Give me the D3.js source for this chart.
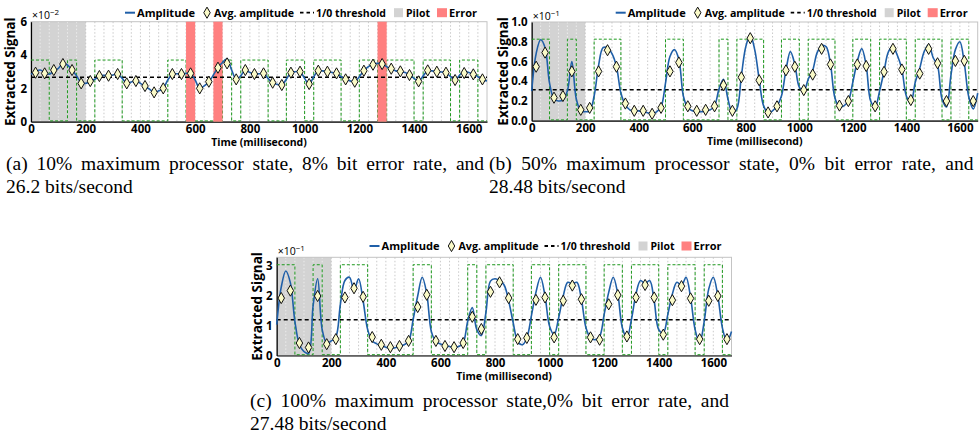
<!DOCTYPE html>
<html><head><meta charset="utf-8">
<script src="https://cdn.jsdelivr.net/npm/d3@7"></script>
<style>body{margin:0;background:#fff}svg{display:block}</style>
</head><body>
<svg id="chart" width="979" height="448"></svg>
<script>
// ---------------- data ----------------
const slotMs = 1000 / 30;          // one bit slot
const slotCount = 50;
const pilotMs = 200;
const bits = [1,1,0,0,1,0,0,1,1,1, 0,0,0,0,0,1,1,0,0,0, 0,1,0,1,1,1,0,0,1,1,
              0,1,1,1,0,0,1,1,0,1, 1,1,0,1,1,1,0,1,1,0];
const xTicks = [0,200,400,600,800,1000,1200,1400,1600];

// (a) 10% processor state  (x10^-2)
const ampA = [2.85,3.0,3.1,2.95,2.85,3.05,3.2,3.5,3.4,3.1,
  2.75,2.35,2.3,2.4,2.55,2.72,2.78,2.76,2.8,2.85,
  2.6,2.3,2.38,2.45,2.3,2.12,1.95,1.78,1.85,2.0,
  2.5,2.85,2.88,2.86,2.9,2.9,2.5,2.0,2.15,2.4,
  2.8,3.25,3.55,3.78,3.1,2.55,2.75,3.1,2.95,2.86,
  2.88,2.9,2.6,2.32,2.25,2.2,2.55,2.94,3.0,3.0,
  2.6,2.25,2.7,3.06,3.05,3.0,2.95,2.9,2.7,2.54,
  2.45,2.4,2.7,3.06,3.3,3.44,3.5,3.48,3.3,3.16,
  3.05,3.0,2.95,2.82,2.6,2.42,2.75,3.06,3.05,3.0,
  2.98,2.94,2.7,2.5,2.8,3.04,2.95,2.86,2.7,2.52,2.45];
const avgA = [2.94,2.9,3.1,3.46,3.1,2.3,2.44,2.74,2.76,2.86,
  2.3,2.44,2.14,1.76,2.0,2.86,2.86,2.9,2.0,2.4,
  3.24,3.5,2.54,3.1,2.86,2.9,2.34,2.2,2.94,3.0,
  2.26,3.06,3.0,2.9,2.54,2.4,3.06,3.42,3.46,3.18,
  3.02,2.8,2.42,3.08,3.0,2.94,2.5,2.92,2.84,2.54];
const errA = [17,20,38];
const thrA = 2.67, highA = 3.7, yMaxA = 6, yTicksA = [0,2,4,6];

// (b) 50% processor state  (x10^-1)
const ampB = [0.30,0.68,0.82,0.74,0.38,0.22,0.20,0.21,0.30,0.60,
  0.22,0.10,0.09,0.10,0.25,0.56,0.74,0.74,0.68,0.55,
  0.28,0.16,0.11,0.10,0.10,0.09,0.08,0.07,0.09,0.14,
  0.38,0.65,0.72,0.62,0.25,0.13,0.10,0.09,0.09,0.10,
  0.11,0.15,0.32,0.42,0.22,0.08,0.12,0.45,0.75,0.87,
  0.72,0.42,0.15,0.08,0.10,0.15,0.25,0.51,0.70,0.57,
  0.34,0.30,0.42,0.51,0.69,0.76,0.75,0.57,0.23,0.14,
  0.15,0.20,0.39,0.60,0.73,0.56,0.20,0.14,0.30,0.50,
  0.70,0.75,0.66,0.52,0.25,0.18,0.39,0.53,0.70,0.77,
  0.64,0.56,0.22,0.14,0.46,0.72,0.80,0.58,0.24,0.12,0.28];
const avgB = [0.547,0.69,0.233,0.25,0.50,0.11,0.13,0.50,0.714,0.547,
  0.174,0.10,0.10,0.07,0.13,0.50,0.59,0.146,0.10,0.11,
  0.146,0.36,0.10,0.44,0.836,0.41,0.084,0.146,0.51,0.547,
  0.31,0.467,0.728,0.57,0.153,0.199,0.57,0.554,0.146,0.495,
  0.728,0.519,0.209,0.477,0.728,0.582,0.199,0.606,0.606,0.199];
const errB = [];
const thrB = 0.314, highB = 0.826, yMaxB = 1.0, yTicksB = [0,0.2,0.4,0.6,0.8,1.0];

// (c) 100% processor state  (x10^-1)
const ampC = [1.04,2.3,2.84,2.45,1.15,0.36,0.13,0.07,1.67,2.58,
  0.87,0.42,0.49,0.62,1.72,2.52,2.63,2.18,2.58,1.84,
  0.87,0.49,0.39,0.32,0.28,0.24,0.26,0.30,0.36,0.47,
  1.21,2.0,2.63,2.07,0.81,0.47,0.39,0.34,0.30,0.26,
  0.30,0.42,1.15,1.61,0.87,0.67,1.44,2.50,2.58,2.52,
  2.37,1.84,1.10,0.47,0.36,0.59,1.33,2.12,2.63,2.0,
  0.98,0.70,1.27,2.0,2.46,2.41,2.46,1.89,0.93,0.59,
  0.53,0.64,1.38,2.12,2.63,2.07,0.93,0.59,1.21,2.07,
  2.52,2.41,2.52,1.84,0.87,0.76,1.38,2.07,2.46,2.35,
  2.63,1.95,0.87,0.42,1.15,2.24,2.63,2.0,0.93,0.47,0.81];
const avgC = [1.93,2.18,0.42,0.27,2.0,0.38,0.55,1.95,2.26,1.97,
  0.62,0.36,0.28,0.32,0.49,1.63,2.04,0.49,0.32,0.28,
  0.42,1.30,0.89,2.14,2.46,1.93,0.55,0.59,1.87,1.95,
  0.61,1.84,2.35,1.89,0.61,0.53,1.72,2.03,0.64,1.95,
  2.37,1.95,0.70,1.86,2.33,1.92,0.55,1.84,2.0,0.55];
const errC = [];
const thrC = 1.2, highC = 3.05, yMaxC = 3.3, yTicksC = [0,1,2,3];

const legendLabels = ["Amplitude","Avg. amplitude","1/0 threshold","Pilot","Error"];
const yTitle = "Extracted Signal";
const xTitle = "Time (millisecond)";
const captionA = ["(a)  10% maximum processor state, 8% bit error rate, and","26.2 bits/second"];
const captionB = ["(b)  50% maximum processor state, 0% bit error rate, and","28.48 bits/second"];
const captionC = ["(c)  100% maximum processor state,0% bit error rate, and","27.48 bits/second"];

// ---------------- drawing ----------------
const svg = d3.select("#chart");
const SANS = "'Open Sans', 'DejaVu Sans', sans-serif";
const SERIF = "'Liberation Serif', 'DejaVu Serif', serif";
const C = {amp:"#1f5fa8", diamond:"#fafac8", green:"#1e9a1e", pilot:"#d3d3d3", err:"#ff8080", grid:"#bdbdbd"};

const panels = [
  {amp:ampA, avg:avgA, err:errA, thr:thrA, high:highA, yMax:yMaxA, yTicks:yTicksA, fmt:d3.format("d"), exp:"\u22122",
   box:{l:31,r:487,t:21.7,b:121.7}, titleDx:-21, legendY:12.7},
  {amp:ampB, avg:avgB, err:errB, thr:thrB, high:highB, yMax:yMaxB, yTicks:yTicksB, fmt:d3.format(".1f"), exp:"\u22121",
   box:{l:531.7,r:977.7,t:22,b:120.7}, titleDx:-28.5, legendY:12.7},
  {amp:ampC, avg:avgC, err:errC, thr:thrC, high:highC, yMax:yMaxC, yTicks:yTicksC, fmt:d3.format("d"), exp:"\u22121",
   box:{l:276.7,r:731.5,t:257.3,b:355.5}, titleDx:-19, legendY:246}
];

function drawPanel(p) {
  const {l,r,t,b} = p.box;
  const x = d3.scaleLinear().domain([0, slotCount*slotMs]).range([l,r]);
  const y = d3.scaleLinear().domain([0, p.yMax]).range([b,t]);
  const g = svg.append("g");

  // pilot region
  g.append("rect").attr("x",x(0)).attr("y",t).attr("width",x(pilotMs)-x(0)).attr("height",b-t).attr("fill",C.pilot);

  // slot grid
  g.selectAll("line.grid").data(d3.range(1,slotCount)).join("line")
    .attr("x1",i=>x(i*slotMs)).attr("x2",i=>x(i*slotMs)).attr("y1",t).attr("y2",b)
    .attr("stroke",i=>i*slotMs < pilotMs-1 ? "#f2f2f2" : C.grid).attr("stroke-width",0.8).attr("stroke-dasharray","1.5,2");

  // frame
  g.append("rect").attr("x",l).attr("y",t).attr("width",r-l).attr("height",b-t).attr("fill","none").attr("stroke","#c4c4c4").attr("stroke-width",1);

  // axes
  const ax = g.append("g").attr("transform",`translate(0,${b})`)
    .call(d3.axisBottom(x).tickValues(xTicks).tickSize(0).tickSizeOuter(0).tickPadding(3).tickFormat(d3.format("d")));
  const ay = g.append("g").attr("transform",`translate(${l},0)`)
    .call(d3.axisLeft(y).tickValues(p.yTicks).tickSize(0).tickSizeOuter(0).tickPadding(4).tickFormat(p.fmt));
  [ax,ay].forEach(a=>{
    a.select(".domain").attr("stroke","#000").attr("stroke-width",1.2);
    a.selectAll("text").attr("font-family",SANS).attr("font-weight",700).attr("font-size",11.5).attr("fill","#000");
  });

  // bit square wave
  const wave = bits.map((v,i)=>[i*slotMs, v ? p.high : 0]);
  wave.push([slotCount*slotMs, bits[slotCount-1] ? p.high : 0]);
  g.append("path").datum(wave)
    .attr("d", d3.line().x(d=>x(d[0])).y(d=>Math.min(y(d[1]), b-0.8)).curve(d3.curveStepAfter))
    .attr("fill","none").attr("stroke",C.green).attr("stroke-width",1).attr("stroke-dasharray","3,2");

  // error slots
  g.selectAll("rect.err").data(p.err).join("rect")
    .attr("x",i=>x(i*slotMs)).attr("width",i=>x((i+1)*slotMs)-x(i*slotMs))
    .attr("y",t).attr("height",b-t).attr("fill",C.err);

  // threshold
  g.append("line").attr("x1",l).attr("x2",r).attr("y1",y(p.thr)).attr("y2",y(p.thr))
    .attr("stroke","#000").attr("stroke-width",1.5).attr("stroke-dasharray","4,3");

  // amplitude
  g.append("path").datum(p.amp)
    .attr("d", d3.line().x((d,k)=>x(k*slotMs/2)).y(d=>y(d)).curve(d3.curveCatmullRom.alpha(0.5)))
    .attr("fill","none").attr("stroke",C.amp).attr("stroke-width",1.6);

  // averaged amplitude diamonds
  g.selectAll("path.dia").data(p.avg).join("path")
    .attr("transform",(d,i)=>`translate(${x((i+0.5)*slotMs)},${y(d)})`)
    .attr("d", d3.symbol(d3.symbolDiamond, 36)())
    .attr("fill",C.diamond).attr("stroke","#111").attr("stroke-width",1);

  // exponent
  const ex = g.append("text").attr("x",l+1).attr("y",t-2.5).attr("font-family",SANS).attr("font-size",10.5).attr("fill","#000");
  ex.append("tspan").text("\u00d710");
  ex.append("tspan").attr("dy",-4).attr("font-size",8).text(p.exp);

  // y title
  g.append("text").attr("transform",`translate(${l+p.titleDx},${(t+b)/2}) rotate(-90)`)
    .attr("text-anchor","middle").attr("dy","0.35em")
    .attr("font-family",SANS).attr("font-weight",700).attr("font-size",13.5).text(yTitle);
  // x title
  g.append("text").attr("x",(l+r)/2).attr("y",b+20.5).attr("dy","0.35em").attr("text-anchor","middle")
    .attr("font-family",SANS).attr("font-weight",700).attr("font-size",10.5).text(xTitle);

  // legend
  const ly = p.legendY, R = r;
  const lg = g.append("g");
  lg.append("line").attr("x1",R-362).attr("x2",R-352).attr("y1",ly).attr("y2",ly).attr("stroke",C.amp).attr("stroke-width",2);
  lg.append("path").attr("transform",`translate(${R-280},${ly})`).attr("d",d3.symbol(d3.symbolDiamond,36)())
    .attr("fill",C.diamond).attr("stroke","#111").attr("stroke-width",1);
  lg.append("line").attr("x1",R-187).attr("x2",R-173).attr("y1",ly).attr("y2",ly).attr("stroke","#000").attr("stroke-width",1.8).attr("stroke-dasharray","3.5,3");
  lg.append("rect").attr("x",R-93).attr("y",ly-4.5).attr("width",9).attr("height",9).attr("fill",C.pilot);
  lg.append("rect").attr("x",R-50).attr("y",ly-4.5).attr("width",10).attr("height",9).attr("fill",C.err);
  const lx = [R-350, R-273, R-171, R-81, R-38];
  const lw = [58, 80, 70, 24, 28];
  lg.selectAll("text").data(legendLabels).join("text")
    .attr("x",(d,i)=>lx[i]).attr("y",ly).attr("dy","0.35em")
    .attr("font-family",SANS).attr("font-weight",700).attr("font-size",11)
    .attr("textLength",(d,i)=>lw[i]).attr("lengthAdjust","spacingAndGlyphs").text(d=>d);
}
panels.forEach(drawPanel);

// captions (justified first line)
function caption(lines, x0, width, y1, y2) {
  const fs = 19.5;
  const t1 = svg.append("text").attr("x",x0).attr("y",y1).attr("font-family",SERIF).attr("font-size",fs).text(lines[0]);
  const nat = t1.node().getComputedTextLength();
  const spaces = (lines[0].match(/ /g) || []).length;
  t1.attr("word-spacing", Math.max(0,(width-nat)/spaces));
  svg.append("text").attr("x",x0).attr("y",y2).attr("font-family",SERIF).attr("font-size",fs).text(lines[1]);
}
caption(captionA, 6, 482, 170, 193);
caption(captionB, 489, 489, 170, 193);
caption(captionC, 250, 483, 407, 430);
</script>
</body></html>
